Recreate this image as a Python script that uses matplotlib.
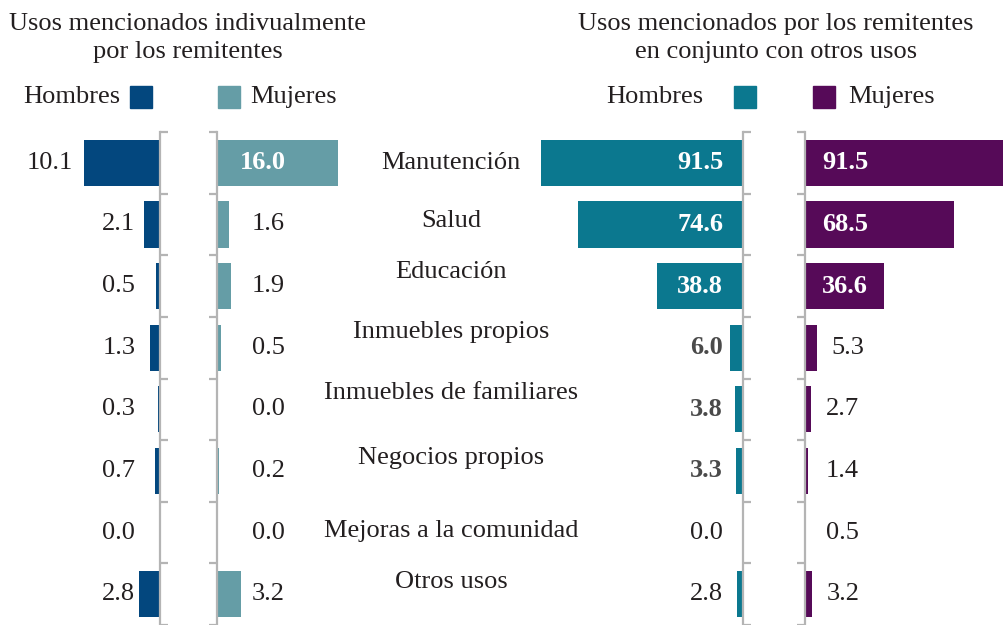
import matplotlib
matplotlib.use("Agg")
import matplotlib.pyplot as plt
import matplotlib.transforms as mtransforms

# Data
categorias = ["Manutención", "Salud", "Educación", "Inmuebles propios",
              "Inmuebles de familiares", "Negocios propios",
              "Mejoras a la comunidad", "Otros usos"]
ind_hombres = [10.1, 2.1, 0.5, 1.3, 0.3, 0.7, 0.0, 2.8]
ind_mujeres = [16.0, 1.6, 1.9, 0.5, 0.0, 0.2, 0.0, 3.2]
conj_hombres = [91.5, 74.6, 38.8, 6.0, 3.8, 3.3, 0.0, 2.8]
conj_mujeres = [91.5, 68.5, 36.6, 5.3, 2.7, 1.4, 0.5, 3.2]

# Colors
c_ind_h = "#03477e"
c_ind_m = "#659da6"
c_conj_h = "#0b788f"
c_conj_m = "#560a58"
gris = "#b4b4b4"
texto = "#231f20"

plt.rcParams['font.family'] = ['Liberation Serif', 'DejaVu Serif']

W, H = 1004, 625
fig = plt.figure(figsize=(W / 100, H / 100), dpi=100)

top_px, bot_px = 132, 625

def px_axes(x0, x1):
    return fig.add_axes([x0 / W, (H - bot_px) / H, (x1 - x0) / W, (bot_px - top_px) / H])

n = len(categorias)
rows = list(range(n))
bounds = [i - 0.5 for i in range(n + 1)]

def style(ax, side):
    for s in ax.spines.values():
        s.set_visible(False)
    ax.spines[side].set_visible(True)
    ax.spines[side].set_color(gris)
    ax.spines[side].set_linewidth(1.6)
    ax.set_ylim(n - 0.5, -0.5)
    ax.set_yticks(bounds)
    ax.set_yticklabels([])
    ax.set_xticks([])
    ax.tick_params(axis='y', direction='out', length=6, width=1.6, color=gris,
                   left=(side == 'left'), right=(side == 'right'))
    ax.patch.set_alpha(0)

bh = 0.75
fs = 19

# Left: Hombres (individual)
ax1 = px_axes(0, 160)
ax1.barh(rows, ind_hombres, height=bh, color=c_ind_h)
ax1.set_xlim(160 / 7.52, 0)
style(ax1, 'right')
for i, v in enumerate(ind_hombres):
    x = v + 1.5 if v > 5 else 3.3
    ax1.text(x, i, f"{v:.1f}", ha='right', va='center', fontsize=fs, color=texto)

# Left: Mujeres (individual)
ax2 = px_axes(217, 350)
ax2.barh(rows, ind_mujeres, height=bh, color=c_ind_m)
ax2.set_xlim(0, 133 / 7.54)
style(ax2, 'left')
for i, v in enumerate(ind_mujeres):
    if v > 5:
        ax2.text(3.0, i, f"{v:.1f}", ha='left', va='center', fontsize=fs,
                 color='white', fontweight='bold')
    else:
        ax2.text(4.6, i, f"{v:.1f}", ha='left', va='center', fontsize=fs, color=texto)

# Right: Hombres (en conjunto)
ax3 = px_axes(500, 743)
ax3.barh(rows, conj_hombres, height=bh, color=c_conj_h)
ax3.set_xlim(243 / 2.21, 0)
style(ax3, 'right')
for i, v in enumerate(conj_hombres):
    if v > 20:
        ax3.text(9, i, f"{v:.1f}", ha='right', va='center', fontsize=fs,
                 color='white', fontweight='bold')
    elif v > 3:
        ax3.text(9, i, f"{v:.1f}", ha='right', va='center', fontsize=fs,
                 color='#4a4a4a', fontweight='bold')
    else:
        ax3.text(9, i, f"{v:.1f}", ha='right', va='center', fontsize=fs, color=texto)

# Right: Mujeres (en conjunto)
ax4 = px_axes(805, 1004)
ax4.barh(rows, conj_mujeres, height=bh, color=c_conj_m)
ax4.set_xlim(0, 199 / 2.17)
style(ax4, 'left')
for i, v in enumerate(conj_mujeres):
    if v > 20:
        ax4.text(7.8, i, f"{v:.1f}", ha='left', va='center', fontsize=fs,
                 color='white', fontweight='bold')
    else:
        ax4.text(max(v + 7, 9.7), i, f"{v:.1f}", ha='left', va='center',
                 fontsize=fs, color=texto)

# Category labels (centered between panels, some raised as in the original)
desplaz = [0, -3, -14, -16, -16, -13, -2, -12]  # pixels upward
for i, cat in enumerate(categorias):
    tr = mtransforms.blended_transform_factory(fig.transFigure, ax1.transData)
    tr = mtransforms.offset_copy(tr, fig=fig, x=0, y=-desplaz[i] * 0.72, units='points')
    fig.text(451 / W, i, cat, transform=tr, ha='center', va='center',
             fontsize=fs, color=texto)

# Titles
fig.text(188 / W, 1 - 38 / H, "Usos mencionados indivualmente\npor los remitentes",
         ha='center', va='center', fontsize=fs, color=texto, linespacing=1.3)
fig.text(776 / W, 1 - 38 / H, "Usos mencionados por los remitentes\nen conjunto con otros usos",
         ha='center', va='center', fontsize=fs, color=texto, linespacing=1.3)

# Legend
ly = 1 - 97 / H
sq_w, sq_h = 22 / W, 22 / H

def cuadro(x_px, color):
    fig.patches.append(plt.Rectangle((x_px / W, ly - sq_h / 2), sq_w, sq_h,
                                     transform=fig.transFigure, color=color))

fig.text(120 / W, ly, "Hombres", ha='right', va='center', fontsize=fs, color=texto)
cuadro(130, c_ind_h)
cuadro(218, c_ind_m)
fig.text(250 / W, ly, "Mujeres", ha='left', va='center', fontsize=fs, color=texto)
fig.text(703 / W, ly, "Hombres", ha='right', va='center', fontsize=fs, color=texto)
cuadro(734, c_conj_h)
cuadro(813, c_conj_m)
fig.text(848 / W, ly, "Mujeres", ha='left', va='center', fontsize=fs, color=texto)

fig.savefig("out.png", dpi=100)
